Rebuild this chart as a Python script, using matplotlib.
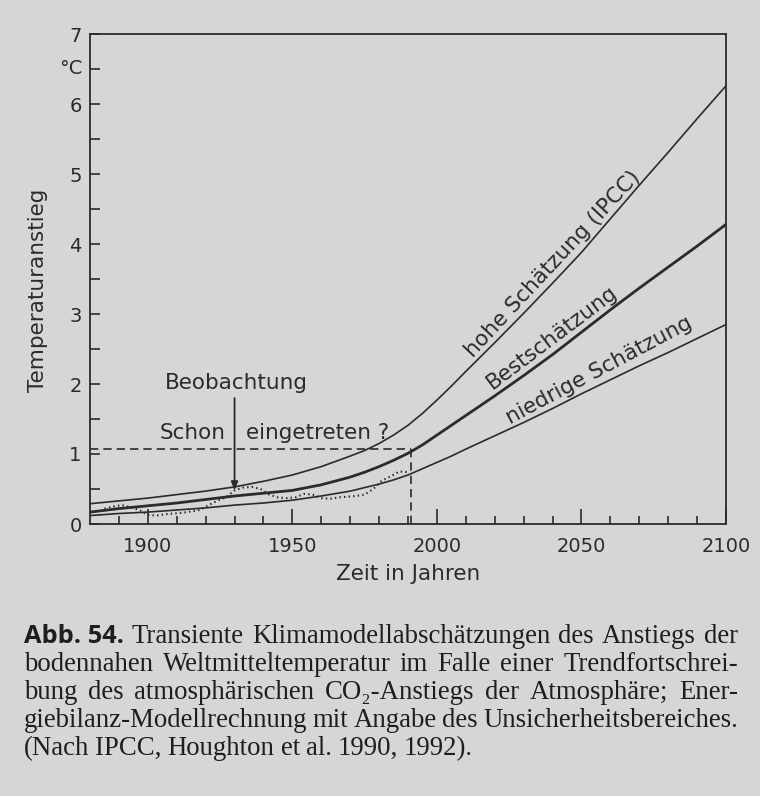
import matplotlib
matplotlib.use("Agg")
import matplotlib.pyplot as plt
import numpy as np

# ---------------- data ----------------
years = [1880, 1890, 1900, 1910, 1920, 1930, 1940, 1950, 1960, 1970, 1975, 1980, 1985,
         1990, 1995, 2000, 2005, 2010, 2020, 2030, 2040, 2050, 2060, 2070, 2080, 2090,
         2100]
high_est = [0.29, 0.33, 0.37, 0.42, 0.47, 0.53, 0.61, 0.70, 0.82, 0.97, 1.05, 1.15, 1.27,
            1.41, 1.58, 1.77, 1.97, 2.18, 2.59, 3.01, 3.44, 3.88, 4.36, 4.84, 5.31, 5.79,
            6.26]
best_est = [0.17, 0.22, 0.26, 0.30, 0.35, 0.40, 0.44, 0.48, 0.56, 0.67, 0.74, 0.82, 0.91,
            1.01, 1.13, 1.27, 1.41, 1.55, 1.83, 2.12, 2.42, 2.74, 3.06, 3.37, 3.67, 3.97,
            4.28]
low_est = [0.12, 0.15, 0.17, 0.20, 0.23, 0.27, 0.30, 0.34, 0.40, 0.47, 0.52, 0.57, 0.63,
           0.70, 0.79, 0.88, 0.97, 1.07, 1.26, 1.45, 1.65, 1.86, 2.06, 2.26, 2.45, 2.65,
           2.85]

obs_years = [1885, 1888, 1891, 1894, 1897, 1900, 1903, 1906, 1909, 1912, 1915, 1918,
             1921, 1924, 1927, 1930, 1933, 1936, 1939, 1942, 1945, 1948, 1951, 1954,
             1957, 1960, 1963, 1966, 1969, 1972, 1975, 1978, 1981, 1984, 1987, 1990]
obs_vals = [0.22, 0.25, 0.27, 0.24, 0.20, 0.13, 0.12, 0.14, 0.15, 0.16, 0.18, 0.20,
            0.27, 0.33, 0.38, 0.48, 0.52, 0.53, 0.50, 0.42, 0.38, 0.37, 0.38, 0.43,
            0.42, 0.37, 0.36, 0.38, 0.39, 0.40, 0.42, 0.50, 0.62, 0.68, 0.75, 0.74]

marker_year = 1991
marker_value = 1.07
arrow_year = 1930

x_ticks = [1900, 1950, 2000, 2050, 2100]
y_ticks = [0, 1, 2, 3, 4, 5, 6, 7]

labels = {"high": "hohe Schätzung (IPCC)", "best": "Bestschätzung",
          "low": "niedrige Schätzung"}

caption_lines = [
    "Transiente Klimamodellabschätzungen des Anstiegs der",
    "bodennahen Weltmitteltemperatur im Falle einer Trendfortschrei-",
    "bung des atmosphärischen CO₂-Anstiegs der Atmosphäre; Ener-",
    "giebilanz-Modellrechnung mit Angabe des Unsicherheitsbereiches.",
    "(Nach IPCC, Houghton et al. 1990, 1992).",
]
caption_head = "Abb. 54."

# ---------------- style ----------------
BG = "#d6d6d6"
INK = "#2b2b2b"
plt.rcParams["font.family"] = ["DejaVu Sans"]
FS = 15.5

fig = plt.figure(figsize=(7.6, 7.96), dpi=100, facecolor=BG)
ax = fig.add_axes([90 / 760, 1 - 524 / 796, 636 / 760, 490 / 796])
ax.set_facecolor("none")

ax.plot(years, high_est, color=INK, lw=1.2)
ax.plot(years, best_est, color=INK, lw=2.0)
ax.plot(years, low_est, color=INK, lw=1.2)
ax.plot(obs_years, obs_vals, color=INK, lw=1.5, linestyle=(0, (0.7, 1.5)))

# dashed marker lines
ax.plot([1880, marker_year], [marker_value, marker_value], color=INK, lw=1.2,
        linestyle=(0, (5, 3)))
ax.plot([marker_year, marker_year], [0, marker_value], color=INK, lw=1.2,
        linestyle=(0, (5, 3)))

ax.set_xlim(1880, 2100)
ax.set_ylim(0, 7)
ax.set_xticks(x_ticks)
ax.set_xticks(list(range(1890, 2100, 10)), minor=True)
ax.set_yticks(y_ticks)
ax.set_yticks([v + 0.5 for v in y_ticks[:-1]], minor=True)
ax.tick_params(axis="x", which="major", direction="in", length=11, width=1.2,
               colors=INK, labelsize=14, pad=9)
ax.tick_params(axis="x", which="minor", direction="in", length=6, width=1.2,
               colors=INK)
ax.tick_params(axis="y", which="both", direction="in", length=7, width=1.2,
               colors=INK, labelsize=14, pad=6)
for sp in ax.spines.values():
    sp.set_color(INK)
    sp.set_linewidth(1.3)

ax.set_xlabel("Zeit in Jahren", fontsize=FS, color=INK, labelpad=6)
ax.set_ylabel("Temperaturanstieg", fontsize=FS, color=INK)
ax.yaxis.set_label_coords(-0.066, 0.476)
ax.text(-0.012, 6.5, "°C", transform=ax.get_yaxis_transform(), ha="right",
        va="center", fontsize=14, color=INK)

# annotation
ax.text(1930.5, 2.02, "Beobachtung", ha="center", va="center", fontsize=FS, color=INK)
ax.annotate("", xy=(arrow_year, 0.44), xytext=(arrow_year, 1.84),
            arrowprops=dict(arrowstyle="-|>,head_length=0.5,head_width=0.2",
                            color=INK, lw=1.3))
ax.text(arrow_year - 3.0, 1.30, "Schon", ha="right", va="center", fontsize=FS, color=INK)
ax.text(arrow_year + 4.0, 1.30, "eingetreten ?", ha="left", va="center", fontsize=FS,
        color=INK)

# curve labels
ax.text(2040, 3.72, labels["high"], rotation=47, ha="center", va="center",
        fontsize=FS, color=INK, rotation_mode="anchor")
ax.text(2040, 2.66, labels["best"], rotation=37, ha="center", va="center",
        fontsize=FS, color=INK, rotation_mode="anchor")
ax.text(2056, 2.19, labels["low"], rotation=28, ha="center", va="center",
        fontsize=FS, color=INK, rotation_mode="anchor")

# ---------------- caption (justified) ----------------
renderer = fig.canvas.get_renderer()
W, H = 760.0, 796.0
left_px, right_px = 24.0, 738.0
baselines = [643, 671, 699, 727, 755]
serif = ["Liberation Serif", "DejaVu Serif"]
cap_color = "#1e1e1e"
min_gap = 5.0


def width_of(t):
    return t.get_window_extent(renderer).width


# bold head scaled to ~103 px wide
probe = fig.text(0, 0, caption_head, fontsize=10, weight="bold",
                 family=["Open Sans", "DejaVu Sans"])
head_size = 10 * 100.0 / width_of(probe)
probe.remove()
probe = fig.text(0, 0, caption_head, fontsize=head_size, weight="bold",
                 family=["Open Sans", "DejaVu Sans"])
head_w = width_of(probe)
probe.remove()

# fit serif size so justified lines keep at least min_gap between words
sizes = []
for i, line in enumerate(caption_lines[:-1]):
    words = line.split(" ")
    ws = 0.0
    for w in words:
        t = fig.text(0, 0, w, fontsize=10, family=serif)
        ws += width_of(t)
        t.remove()
    extra = head_w + min_gap if i == 0 else 0.0
    avail = right_px - left_px - extra - (len(words) - 1) * min_gap
    sizes.append(10 * avail / ws)
cap_size = min(sizes)

for i, line in enumerate(caption_lines):
    y = 1 - baselines[i] / H
    words = line.split(" ")
    items = []
    if i == 0:
        items.append(fig.text(0, y, caption_head, fontsize=head_size, weight="bold",
                              family=["Open Sans", "DejaVu Sans"], color=cap_color,
                              va="baseline"))
    for w in words:
        items.append(fig.text(0, y, w, fontsize=cap_size, family=serif,
                              color=cap_color, va="baseline"))
    widths = [width_of(t) for t in items]
    total = sum(widths)
    n_gaps = len(items) - 1
    if i < len(caption_lines) - 1:
        gap = (right_px - left_px - total) / n_gaps
    else:
        gap = min_gap + 1
    x = left_px
    for t, wdt in zip(items, widths):
        t.set_x(x / W)
        x += wdt + gap

fig.savefig("out.png", dpi=100, facecolor=BG)
